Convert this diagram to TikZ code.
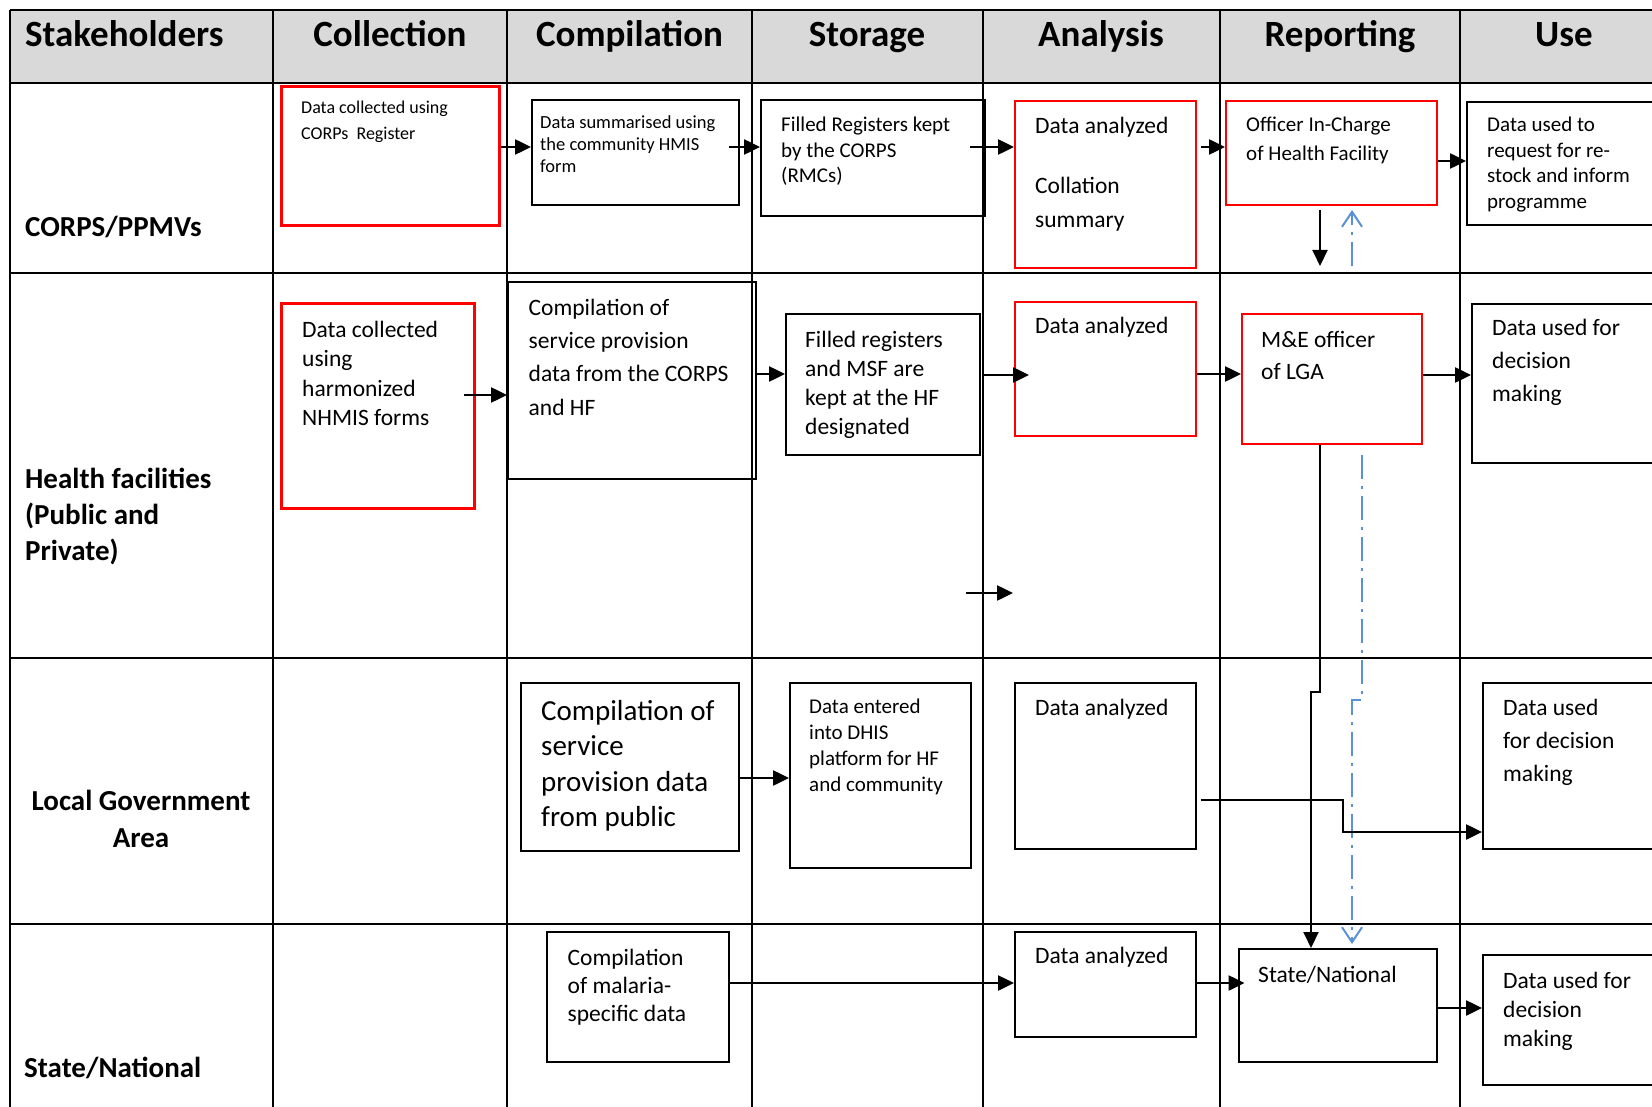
\documentclass[tikz,border=0pt]{standalone}
\usepackage{fontspec}
\setmainfont{Carlito}
\usetikzlibrary{arrows.meta,calc}
\definecolor{hdr}{RGB}{217,217,217}
\definecolor{lnblue}{RGB}{88,145,215}
\definecolor{boxred}{RGB}{255,0,0}
\newcommand{\fsz}[2]{\fontsize{#1}{#2}\selectfont}
\begin{document}
\begin{tikzpicture}[x=1pt,y=-1pt,
  grid/.style={line width=2pt,black},
  box/.style={draw=black,line width=2pt,anchor=north west,inner sep=0pt,rectangle},
  redbox/.style={box,draw=boxred},
  txt/.style={anchor=base west,align=left,inner sep=0pt},
  hd/.style={font=\fsz{37}{44}\bfseries,anchor=base,inner sep=0pt},
  rl/.style={font=\fsz{29}{36}\bfseries,inner sep=0pt,align=left,anchor=base west},
  arr/.style={line width=2.5pt,-{Triangle[length=16pt,width=15pt]}},
  blu/.style={lnblue,line width=2pt,dash pattern=on 24pt off 7pt on 3pt off 7pt,-{Straight Barb[length=15pt,width=20pt]}}
]
\useasboundingbox (0,0) rectangle (1652,1107);
\clip (0,0) rectangle (1652,1107);

% header background
\fill[hdr] (9.5,10) rectangle (1660,83);
% grid
\draw[grid] (9.5,10) -- (1660,10);
\foreach \yy in {83,273,658,924} \draw[grid] (9.5,\yy) -- (1660,\yy);
\foreach \xx in {9.5,273,507,752,983,1220,1460} \draw[grid] (\xx,10) -- (\xx,1110);

% headers
\node[hd,anchor=base west] (hS) at (25,47) {Stakeholders};
\node[hd] (hC) at (390,47) {Collection};
\node[hd] (hP) at (629.5,47) {Compilation};
\node[hd] (hT) at (867,47) {Storage};
\node[hd] (hA) at (1101,47) {Analysis};
\node[hd] (hR) at (1340,47) {Reporting};
\node[hd] (hU) at (1564,47) {Use};

% row labels (multi-line nodes are anchored at the baseline of their last line)
\node[rl] (r1) at (25,237) {CORPS/PPMVs};
\node[rl] (r2) at (25,560) {Health facilities\\(Public and\\Private)};
\node[rl,font=\fsz{29}{37}\bfseries,align=center,anchor=base] (r3) at (141,847) {Local Government\\Area};
\node[rl] (r4) at (24,1077) {State/National};

% boxes row 1
\node[redbox,line width=2.6pt,minimum width=218pt,minimum height=139pt] (b1) at (280,85) {};
\node[box,minimum width=207pt,minimum height=105pt] (b2) at (531,99) {};
\node[box,minimum width=224pt,minimum height=116pt] (b3) at (760,99) {};
\node[redbox,minimum width=181pt,minimum height=167pt] (b4) at (1014,100) {};
\node[redbox,minimum width=211pt,minimum height=104pt] (b5) at (1225,100) {};
\node[box,minimum width=240pt,minimum height=123pt] (b6) at (1466,101) {};
% boxes row 2
\node[redbox,line width=3pt,minimum width=193pt,minimum height=205pt] (c1) at (280,302) {};
\node[box,minimum width=247.5pt,minimum height=197pt] (c2) at (507,281) {};
\node[box,minimum width=194pt,minimum height=141pt] (c3) at (785,313) {};
\node[redbox,minimum width=181pt,minimum height=134pt] (c4) at (1014,301) {};
\node[redbox,minimum width=180pt,minimum height=130pt] (c5) at (1241,313) {};
\node[box,minimum width=240pt,minimum height=159pt] (c6) at (1471,303) {};
% boxes row 3
\node[box,minimum width=217.5pt,minimum height=168pt] (d1) at (520,682) {};
\node[box,minimum width=181pt,minimum height=185pt] (d2) at (789,682) {};
\node[box,minimum width=181pt,minimum height=166pt] (d3) at (1014,682) {};
\node[box,minimum width=230pt,minimum height=166pt] (d4) at (1482,682) {};
% boxes row 4
\node[box,minimum width=181.6pt,minimum height=130pt] (e1) at (546,931) {};
\node[box,minimum width=181pt,minimum height=105pt] (e2) at (1014,931) {};
\node[box,minimum width=198pt,minimum height=113pt] (e3) at (1237.5,948) {};
\node[box,minimum width=230pt,minimum height=130pt] (e4) at (1482,954) {};

% texts (anchored at the baseline of the last line)
\node[txt,font=\fsz{18}{26}] (b1t) at (301,140) {Data collected using\\CORPs\ \ Register};
\node[txt,font=\fsz{18.5}{22}] (b2t) at (540,173) {Data summarised using\\the community HMIS\\form};
\node[txt,font=\fsz{21}{25.5}] (b3t) at (781,183) {Filled Registers kept\\by the CORPS\\(RMCs)};
\node[txt,font=\fsz{23.5}{34}] (b4t) at (1035,227.5) {Data analyzed\\[26pt]Collation\\summary};
\node[txt,font=\fsz{21}{29.5}] (b5t) at (1246,161) {Officer In-Charge\\of Health Facility};
\node[txt,font=\fsz{21}{25.5}] (b6t) at (1487,208.5) {Data used to\\request for re-\\stock and inform\\programme};

\node[txt,font=\fsz{23.5}{29.5}] (c1t) at (302,425.5) {Data collected\\using\\harmonized\\NHMIS forms};
\node[txt,font=\fsz{23.5}{33.3}] (c2t) at (528.5,415) {Compilation of\\service provision\\data from the CORPS\\and HF};
\node[txt,font=\fsz{23.5}{28.7}] (c3t) at (805,434) {Filled registers\\and MSF are\\kept at the HF\\designated};
\node[txt,font=\fsz{23.5}{28}] (c4t) at (1035,334) {Data analyzed};
\node[txt,font=\fsz{23.5}{31.7}] (c5t) at (1261,379.7) {M\&E officer\\of LGA};
\node[txt,font=\fsz{23.5}{33.3}] (c6t) at (1492,401.6) {Data used for\\decision\\making};

\node[txt,font=\fsz{29}{35.5}] (d1t) at (541,826.5) {Compilation of\\service\\provision data\\from public};
\node[txt,font=\fsz{21}{26}] (d2t) at (809,791) {Data entered\\into DHIS\\platform for HF\\and community};
\node[txt,font=\fsz{23.5}{28}] (d3t) at (1035,715) {Data analyzed};
\node[txt,font=\fsz{23.5}{33.3}] (d4t) at (1503,781.6) {Data used\\for decision\\making};

\node[txt,font=\fsz{23.5}{28.3}] (e1t) at (567.5,1021.6) {Compilation\\of malaria-\\specific data};
\node[txt,font=\fsz{23.5}{28}] (e2t) at (1035,963) {Data analyzed};
\node[txt,font=\fsz{23.5}{28}] (e3t) at (1258,982) {State/National};
\node[txt,font=\fsz{23.5}{29.2}] (e4t) at (1503,1046.4) {Data used for\\decision\\making};

% free ends
\coordinate (lone1) at (966,593);
\coordinate (lone2) at (1013,593);
\coordinate (r1down) at (1320,266);
\coordinate (r1up) at (1352,266);

% arrows row 1
\draw[arr] (b1.east |- 0,147) -- (b2.west |- 0,147);
\draw[arr] ($(b2.east |- 0,147)+(-11,0)$) -- (b3.west |- 0,147);
\draw[arr] ($(b3.east |- 0,147)+(-16,0)$) -- (b4.west |- 0,147);
\draw[arr] ($(b4.east |- 0,147)+(4,0)$) -- (b5.west |- 0,147);
\draw[arr] (b5.east |- 0,161) -- (b6.west |- 0,161);
\draw[arr,line width=2pt] ($(b5.south -| 1320,0)+(0,4)$) -- (r1down);
\draw[blu] (r1up) -- ($(b5.south -| 1352,0)+(0,4)$);
% arrows row 2
\draw[arr] ($(c1.east |- 0,395)+(-12,0)$) -- (c2.west |- 0,395);
\draw[arr] (c2.east |- 0,374) -- (c3.west |- 0,374);
\draw[arr] ($(c3.east |- 0,375)+(2,0)$) -- ($(c4.west |- 0,375)+(15,0)$);
\draw[arr] (c4.east |- 0,374) -- (c5.west |- 0,374);
\draw[arr] (c5.east |- 0,375) -- (c6.west |- 0,375);
\draw[arr] (lone1) -- (lone2);
% long verticals
\draw[arr,line width=2pt] (c5.south -| 1320,0) -- (1320,692) -- (1311,692) -- (e3.north -| 1311,0);
\draw[blu] ($(c5.south -| 1362,0)+(0,10)$) -- (1362,700) -- (1352,700) -- ($(e3.north -| 1352,0)+(0,-4)$);
% arrows row 3
\draw[arr] (d1.east |- 0,778) -- (d2.west |- 0,778);
\draw[arr] ($(d3.east |- 0,800)+(3.5,0)$) -- (1343,800) -- (1343,832) -- (d4.west |- 0,832);
% arrows row 4
\draw[arr] (e1.east |- 0,983) -- (e2.west |- 0,983);
\draw[arr] (e2.east |- 0,983) -- ($(e3.west |- 0,983)+(7,0)$);
\draw[arr] (e3.east |- 0,1008) -- (e4.west |- 0,1008);
\end{tikzpicture}
\end{document}
